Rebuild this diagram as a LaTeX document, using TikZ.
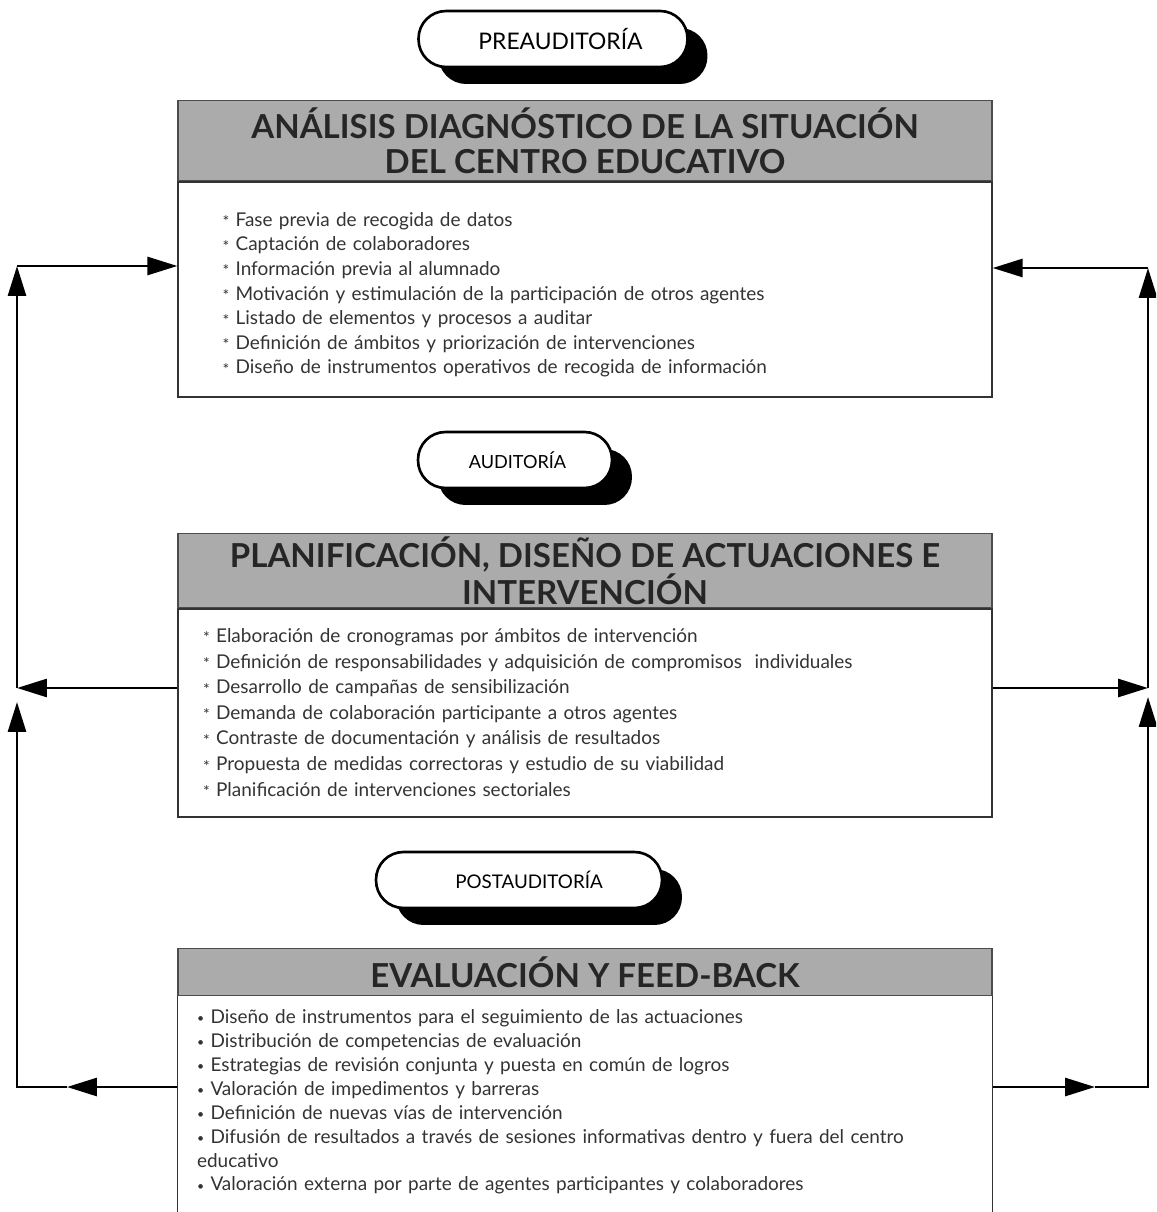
\documentclass[tikz,border=0pt]{standalone}
\usepackage{fontspec}
\setmainfont{Lato}
\usetikzlibrary{arrows.meta,positioning,shadows}

\newcommand\starmark{\raisebox{-0.15ex}{\small*}\ }
\newcommand\dotmark{\raisebox{0.1ex}{\scriptsize•}\ }

\begin{document}
\begin{tikzpicture}[
                x=0.02cm, y=-0.02cm,
                phase/.style={draw, line width=1.5pt, rounded corners=0.55cm, fill=white, minimum height=1.12cm, inner sep=0pt,
                    drop shadow={shadow xshift=0.4cm, shadow yshift=-0.34cm, fill=black, opacity=1}},
                head/.style={draw=black!70, fill=black!33, line width=0.8pt, minimum width=16.28cm, align=center, inner ysep=0.5pt,
                    text=black!85, font=\bfseries\fontsize{18.8}{19.5}\selectfont, anchor=north},
                body/.style={draw=black!80, line width=0.8pt, minimum width=16.28cm, align=left, text=black!80},
                arrow/.style={-{Triangle[length=0.6cm, width=0.36cm]}, line width=1.6pt},
                node distance=0pt
            ]

            \useasboundingbox (0,0) rectangle (1156,1212);
            \clip (0,0) rectangle (1156,1212);

            % phase labels
            \node[phase, minimum width=5.38cm, font=\fontsize{13}{15}\selectfont] (pre) at (553,39) {\hspace{0.3cm}PREAUDITORÍA};
            \node[phase, minimum width=3.88cm, font=\fontsize{10.3}{12}\selectfont] (aud) at (515,460) {\hspace{0.1cm}AUDITORÍA};
            \node[phase, minimum width=5.72cm, font=\fontsize{10.7}{12}\selectfont] (post) at (519,880) {\hspace{0.4cm}POSTAUDITORÍA};

            % blocks
            \node[head, minimum height=1.6cm] (head1) at (585,100) {ANÁLISIS DIAGNÓSTICO DE LA SITUACIÓN\\[0.5pt]DEL CENTRO EDUCATIVO};
            \node[body, below=of head1, minimum height=4.3cm, inner xsep=0.88cm, text width=14.5cm,
                  font=\fontsize{10.8}{14}\selectfont] (body1) {%
                \rule{0pt}{14pt}\starmark Fase previa de recogida de datos\\
                \starmark Captación de colaboradores\\
                \starmark Información previa al alumnado\\
                \starmark Motivación y estimulación de la participación de otros agentes\\
                \starmark Listado de elementos y procesos a auditar\\
                \starmark Definición de ámbitos y priorización de intervenciones\\
                \starmark Diseño de instrumentos operativos de recogida de información};

            \node[head, minimum height=1.48cm] (head2) at (585,533) {PLANIFICACIÓN, DISEÑO DE ACTUACIONES E\\INTERVENCIÓN};
            \node[body, below=of head2, minimum height=4.16cm, inner xsep=0.5cm, text width=15.28cm,
                  font=\fontsize{10.8}{14.6}\selectfont] (body2) {%
                \starmark Elaboración de cronogramas por ámbitos de intervención\\
                \starmark Definición de responsabilidades y adquisición de compromisos\ \ individuales\\
                \starmark Desarrollo de campañas de sensibilización\\
                \starmark Demanda de colaboración participante a otros agentes\\
                \starmark Contraste de documentación y análisis de resultados\\
                \starmark Propuesta de medidas correctoras y estudio de su viabilidad\\
                \starmark Planificación de intervenciones sectoriales};

            \node[head, minimum height=0.94cm] (head3) at (585,948) {EVALUACIÓN Y FEED-BACK};
            \node[body, draw=none, below=of head3, minimum height=4.2cm, inner xsep=0.38cm, text width=15.52cm,
                  font=\fontsize{10.8}{13.6}\selectfont] (body3) {%
                \dotmark Diseño de instrumentos para el seguimiento de las actuaciones\\
                \dotmark Distribución de competencias de evaluación\\
                \dotmark Estrategias de revisión conjunta y puesta en común de logros\\
                \dotmark Valoración de impedimentos y barreras\\
                \dotmark Definición de nuevas vías de intervención\\
                \dotmark Difusión de resultados a través de sesiones informativas dentro y fuera del centro\\
                educativo\\
                \dotmark Valoración externa por parte de agentes participantes y colaboradores};
            \draw[line width=0.8pt, black!80] (body3.north west) -- (body3.north west |- 0,1230);
            \draw[line width=0.8pt, black!80] (body3.north east) -- (body3.north east |- 0,1230);

            % feedback loop
            \coordinate (lt) at (17,266);
            \coordinate (lm) at (17,688);
            \coordinate (lj) at (17,702);
            \coordinate (lb) at (17,1087);
            \coordinate (la) at (67,1087);
            \coordinate (rt) at (1148,268);
            \coordinate (rm) at (1148,688);
            \coordinate (rj) at (1148,697);
            \coordinate (rb) at (1148,1087);
            \coordinate (ra) at (1095,1087);

            \draw[arrow] (lt) -- (lt -| body1.west);
            \draw[arrow] (rt) -- (rt -| body1.east);
            \draw[arrow] (lm -| body2.west) -- (lm);
            \draw[arrow] (rm -| body2.east) -- (rm);
            \draw[arrow] (lm) -- (lt);
            \draw[arrow] (rm) -- (rt);
            \draw[arrow] (la -| body3.west) -- (la);
            \draw[arrow] (la) -- (lb) -- (lj);
            \draw[arrow] (ra -| body3.east) -- (ra);
            \draw[arrow] (ra) -- (rb) -- (rj);

        \end{tikzpicture}
\end{document}
